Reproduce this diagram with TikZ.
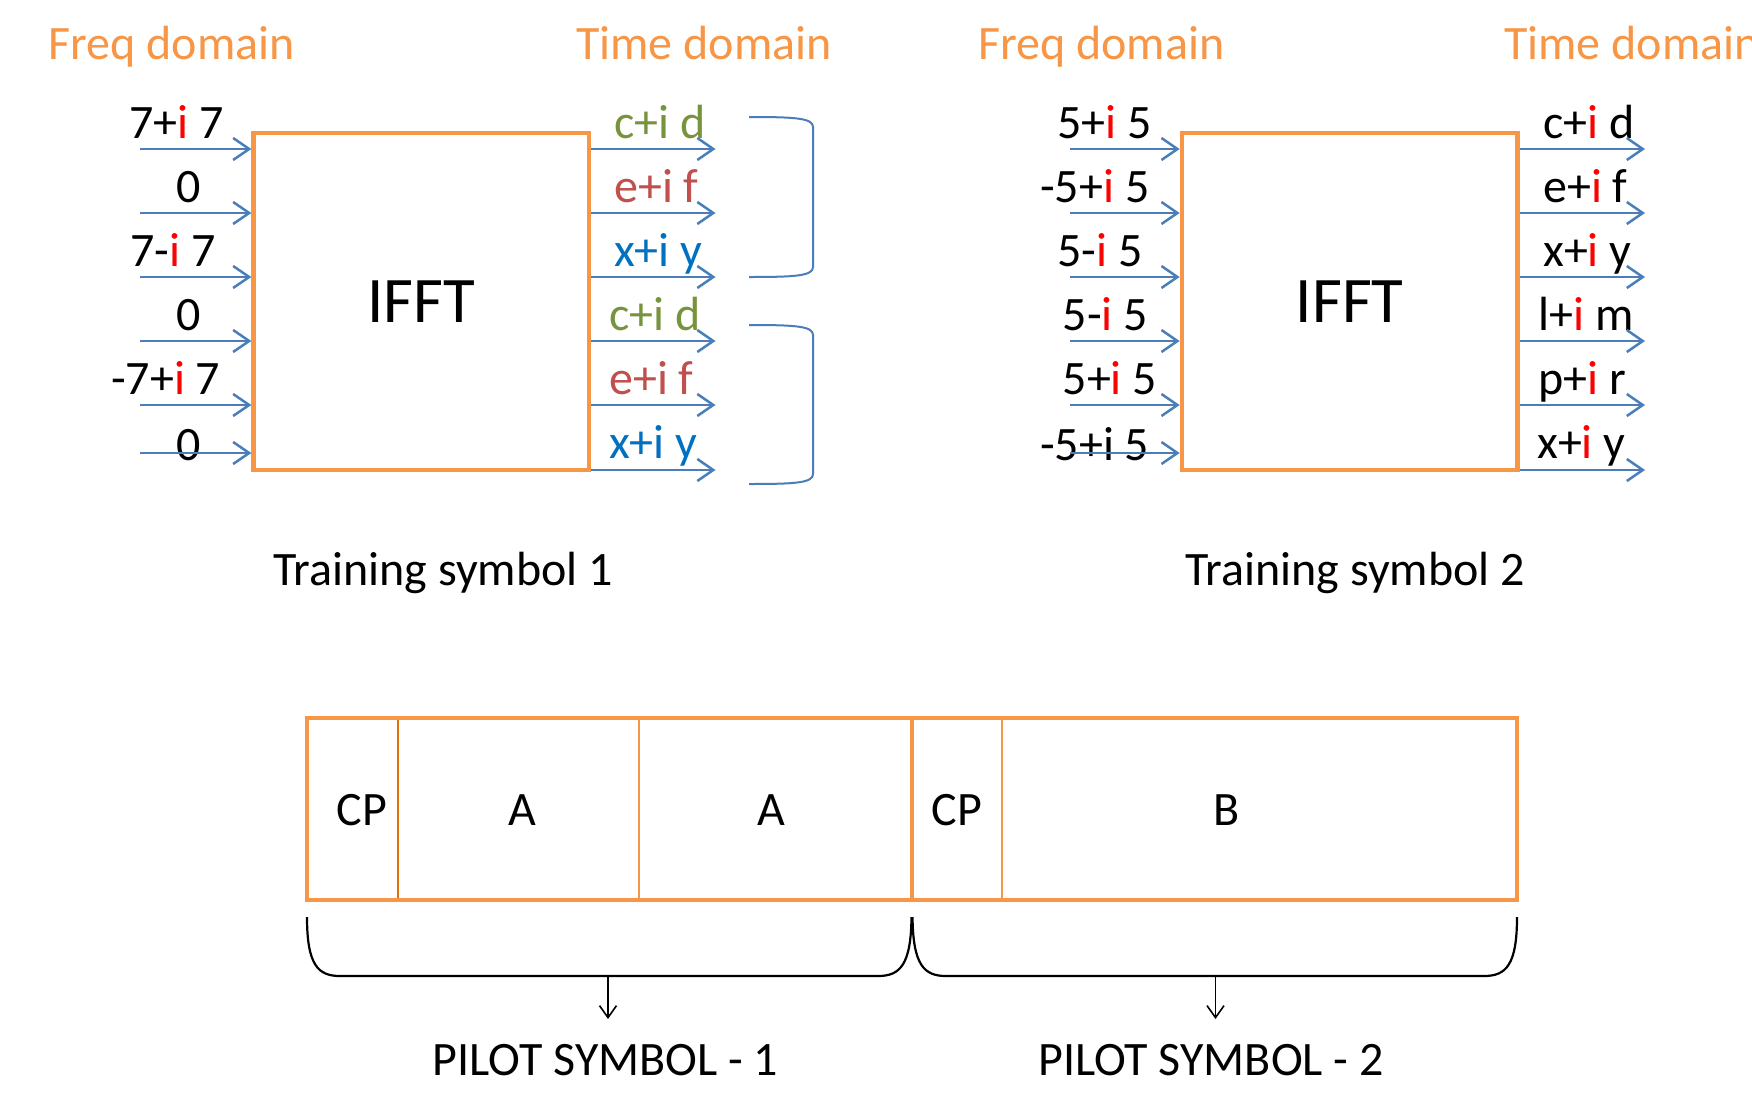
\documentclass[tikz,border=0pt]{standalone}
\usepackage{fontspec}
\setmainfont{Carlito}
\usetikzlibrary{arrows.meta}
\definecolor{orng}{HTML}{F79646}
\definecolor{darkorng}{HTML}{E46C0A}
\definecolor{arrblue}{HTML}{4A7EBB}
\definecolor{tgreen}{HTML}{77933C}
\definecolor{brick}{HTML}{C0504D}
\definecolor{txtblue}{HTML}{0070C0}
\newcommand\redi{\textcolor{red}{i}}
\begin{document}
\begin{tikzpicture}[x=1pt,y=-1pt,
  lbl/.style={inner sep=0pt, anchor=base west, font=\fontsize{48}{52}\selectfont},
  ctr/.style={inner sep=0pt, anchor=center, font=\fontsize{48}{52}\selectfont},
  head/.style={lbl, text=orng},
  ifftbox/.style={draw=orng, line width=4.5pt, minimum width=335.6pt, minimum height=337pt, inner sep=0pt, font=\fontsize{65}{68}\selectfont},
  arr/.style={draw=arrblue, line width=2.5pt, -{Straight Barb[length=16pt,width=22pt]}},
  brk/.style={draw=arrblue, line width=2pt},
  brace/.style={draw=black, line width=2.2pt},
  darr/.style={draw=black, line width=1.6pt, -{Straight Barb[length=12pt,width=17pt]}},
  frame/.style={draw=orng, line width=4pt},
  thin/.style={draw=orng, line width=2pt}]
\useasboundingbox[fill=white] (0,0) rectangle (1752,1092);

% headings
\node[head] (fq1) at (48.5,59) {Freq domain};
\node[head] (td1) at (576,59) {Time domain};
\node[head] (fq2) at (978,59) {Freq domain};
\node[head] (td2) at (1504,59) {Time domain};

% IFFT boxes
\node[ifftbox] (ifft1) at (421.4,301.5) {IFFT};
\node[ifftbox] (ifft2) at (1349.7,301.5) {IFFT};

% input labels left
\node[lbl] (l1) at (129,138) {7+\redi{} 7};
\node[lbl] (l2) at (176,202) {0};
\node[lbl] (l3) at (130,266) {7-\redi{} 7};
\node[lbl] (l4) at (176,330) {0};
\node[lbl] (l5) at (111,394) {-7+\redi{} 7};
\node[lbl] (l6) at (176,460) {0};

% input labels right
\node[lbl] (r1) at (1057,138) {5+\redi{} 5};
\node[lbl] (r2) at (1040,202) {-5+\redi{} 5};
\node[lbl] (r3) at (1057,266) {5-\redi{} 5};
\node[lbl] (r4) at (1062.5,330) {5-\redi{} 5};
\node[lbl] (r5) at (1062.5,394) {5+\redi{} 5};
\node[lbl] (r6) at (1040,460) {-5+i 5};

% output labels left
\node[lbl, text=tgreen] (p1) at (614,138) {c+i d};
\node[lbl, text=brick] (p2) at (614,202) {e+i f};
\node[lbl, text=txtblue] (p3) at (614,266) {x+i y};
\node[lbl, text=tgreen] (p4) at (609,330) {c+i d};
\node[lbl, text=brick] (p5) at (609,394) {e+i f};
\node[lbl, text=txtblue] (p6) at (609,458) {x+i y};

% output labels right
\node[lbl] (q1) at (1543,138) {c+\redi{} d};
\node[lbl] (q2) at (1543,202) {e+\redi{} f};
\node[lbl] (q3) at (1543,266) {x+\redi{} y};
\node[lbl] (q4) at (1538,330) {l+\redi{} m};
\node[lbl] (q5) at (1538,394) {p+\redi{} r};
\node[lbl] (q6) at (1537,458) {x+\redi{} y};

% arrow end coordinates
\foreach \n/\y in {1/149,2/213,3/277,4/341,5/405,6/453}{
  \coordinate (ia\n) at (140.3,\y);
  \coordinate (ib\n) at (1070,\y);
}
\foreach \n/\y in {1/149,2/213,3/277,4/341,5/405,6/470}{
  \coordinate (oa\n) at (715.5,\y);
  \coordinate (ob\n) at (1645,\y);
}
\foreach \n in {1,...,6}{
  \draw[arr] (ia\n) -- (ia\n -| ifft1.west);
  \draw[arr] (ib\n) -- (ib\n -| ifft2.west);
  \draw[arr] (oa\n -| ifft1.east) -- (oa\n);
  \draw[arr] (ob\n -| ifft2.east) -- (ob\n);
}

% blue brackets
\coordinate (bk1t) at (749,117);
\coordinate (bk1b) at (749,277);
\coordinate (bk2t) at (749,325);
\coordinate (bk2b) at (749,484);
\draw[brk] (bk1t) .. controls (795,117) and (813,118) .. (813,127) -- (813,267) .. controls (813,276) and (795,277) .. (bk1b);
\draw[brk] (bk2t) .. controls (795,325) and (813,326) .. (813,335) -- (813,474) .. controls (813,483) and (795,484) .. (bk2b);

% training labels
\node[lbl] (ts1) at (273,585) {Training symbol 1};
\node[lbl] (ts2) at (1185,585) {Training symbol 2};

% frame
\draw[thin, draw=darkorng] (397.5,718) -- (397.5,900);
\draw[thin] (639,718) -- (639,900);
\draw[thin] (1002,718) -- (1002,900);
\draw[frame] (307,718) rectangle (1517,900);
\draw[frame] (912,718) -- (912,900);
\node[ctr] (cp1) at (362,810) {CP};
\node[ctr] (a1) at (522,810) {A};
\node[ctr] (a2) at (771,810) {A};
\node[ctr] (cp2) at (957,810) {CP};
\node[ctr] (bb) at (1227,810) {B};

% braces
\draw[brace] (307,917) .. controls (307,965) and (318,976) .. (340,976) -- (878,976) .. controls (900,976) and (911,965) .. (911.5,917);
\draw[brace] (912.5,917) .. controls (913,965) and (924,976) .. (946,976) -- (1484,976) .. controls (1506,976) and (1517,965) .. (1517,917);
\coordinate (bt1) at (608,976);
\coordinate (bt2) at (1215.5,976);
\coordinate (be1) at (608,1019);
\coordinate (be2) at (1215.5,1019);
\draw[darr] (bt1) -- (be1);
\draw[darr] (bt2) -- (be2);

\node[lbl] (ps1) at (432.5,1075) {PILOT SYMBOL - 1};
\node[lbl] (ps2) at (1038,1075) {PILOT SYMBOL - 2};
\end{tikzpicture}
\end{document}
